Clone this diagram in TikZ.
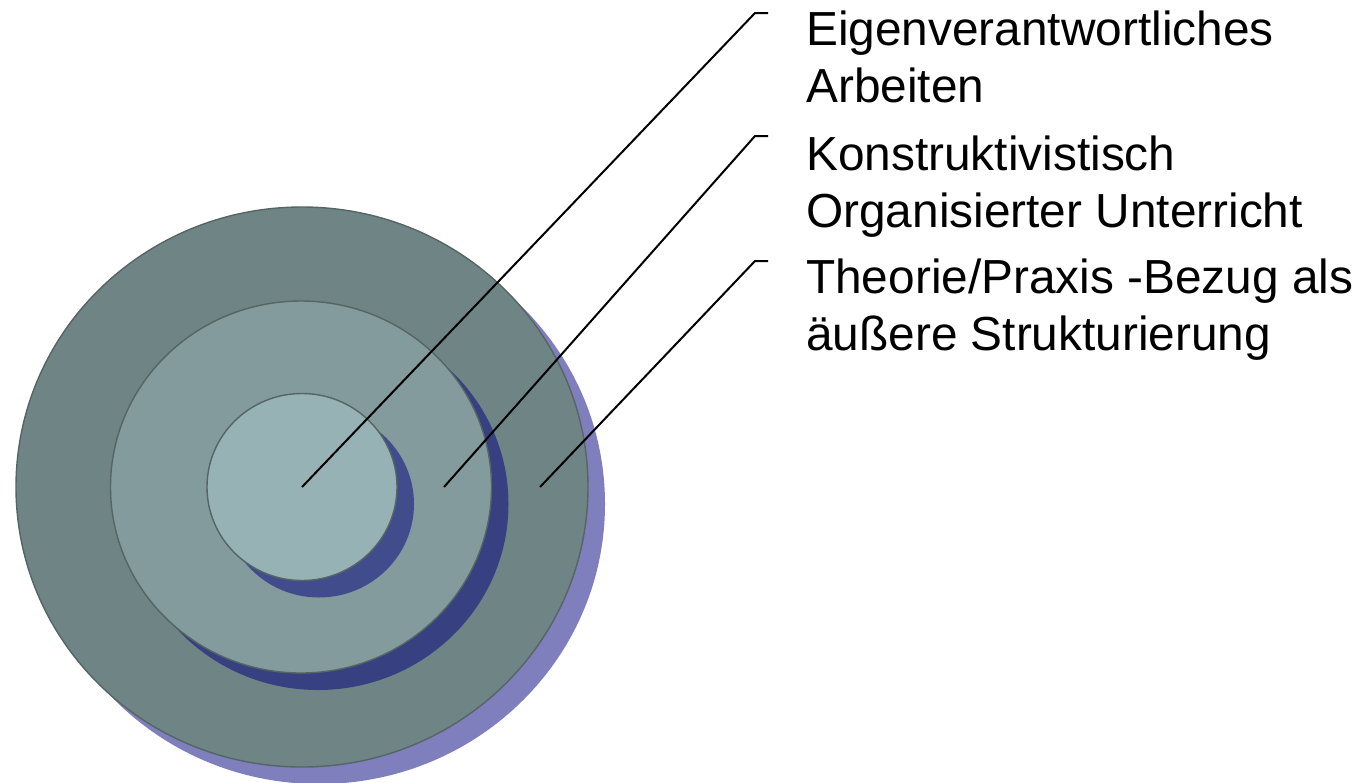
\documentclass[tikz,border=0pt]{standalone}
\usepackage{fontspec}
\setmainfont{Liberation Sans}
\usetikzlibrary{shapes.geometric}
\definecolor{outerfill}{RGB}{111,133,133}
\definecolor{middlefill}{RGB}{131,155,156}
\definecolor{innerfill}{RGB}{150,178,180}
\definecolor{outershadow}{RGB}{127,127,190}
\definecolor{middleshadow}{RGB}{55,64,128}
\definecolor{innershadow}{RGB}{65,76,140}
\definecolor{ringline}{RGB}{85,100,100}
\tikzset{
  ring/.style={ellipse, inner sep=0pt, draw=ringline, line width=1.4pt},
  ringshadow/.style={ellipse, inner sep=0pt},
  leader/.style={draw=black, line width=2pt},
  label/.style={anchor=base west, inner sep=0pt, align=left, font=\fontsize{47.8}{56.7}\selectfont}
}
\begin{document}
\begin{tikzpicture}[x=1pt,y=-1pt]
\useasboundingbox (0,0) rectangle (1359,782);
% outer ring
\node[ringshadow, fill=outershadow, minimum width=572pt, minimum height=560pt] (outerS) at (319,504) {};
\node[ring, fill=outerfill, minimum width=572pt, minimum height=560pt] (outer) at (302,487) {};
% middle ring
\node[ringshadow, fill=middleshadow, minimum width=381pt, minimum height=372pt] (middleS) at (318,504) {};
\node[ring, fill=middlefill, minimum width=381pt, minimum height=372pt] (middle) at (301,487) {};
% inner ring
\node[ringshadow, fill=innershadow, minimum width=190pt, minimum height=187pt] (innerS) at (319,504) {};
\node[ring, fill=innerfill, minimum width=190pt, minimum height=187pt] (inner) at (302,487) {};
% leader anchors
\coordinate (c1) at (302,487);
\coordinate (c2) at (444,487);
\coordinate (c3) at (540,487);
\coordinate (k1) at (755,13);
\coordinate (k2) at (755,136);
\coordinate (k3) at (755,261);
\coordinate (e1) at (768,13);
\coordinate (e2) at (768,136);
\coordinate (e3) at (768,261);
\draw[leader] (c1) -- (k1) -- (e1);
\draw[leader] (c2) -- (k2) -- (e2);
\draw[leader] (c3) -- (k3) -- (e3);
% labels (anchored at the baseline of their last line)
\node[label] (t1) at (806,102) {Eigenverantwortliches\\Arbeiten};
\node[label] (t2) at (806,227) {Konstruktivistisch\\Organisierter Unterricht};
\node[label] (t3) at (806,350) {Theorie/Praxis -Bezug als\\äußere Strukturierung};
\end{tikzpicture}
\end{document}
